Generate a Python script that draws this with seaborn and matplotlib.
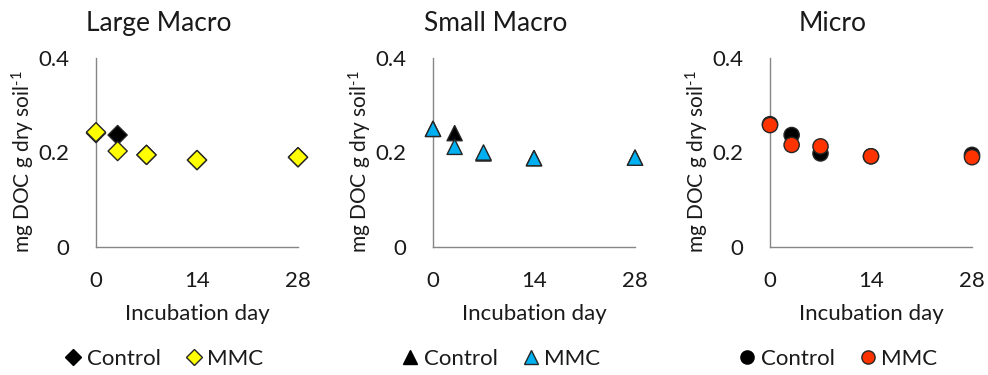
import matplotlib
matplotlib.use("Agg")
import matplotlib.pyplot as plt
from matplotlib.lines import Line2D
import seaborn as sns
import pandas as pd

# Dissolved organic carbon over the incubation, per aggregate size class
days = [0, 3, 7, 14, 28]
panel_titles = ["Large Macro", "Small Macro", "Micro"]
treatments = ["Control", "MMC"]

large_control = [0.241, 0.237, 0.195, 0.184, 0.190]
large_mmc = [0.243, 0.203, 0.195, 0.184, 0.190]
small_control = [0.250, 0.241, 0.198, 0.188, 0.189]
small_mmc = [0.250, 0.212, 0.200, 0.188, 0.189]
micro_control = [0.260, 0.237, 0.198, 0.192, 0.195]
micro_mmc = [0.258, 0.216, 0.213, 0.192, 0.190]

y_ticks = [0, 0.2, 0.4]
y_tick_labels = ["0", "0.2", "0.4"]
x_ticks = [0, 14, 28]

sns.set_theme(style="white")
plt.rcParams["font.family"] = ["Lato", "DejaVu Sans"]
plt.rcParams["mathtext.fontset"] = "custom"
plt.rcParams["mathtext.rm"] = "Lato"
plt.rcParams["mathtext.it"] = "Lato:italic"

fig = plt.figure(figsize=(9.88, 3.75), dpi=100)

panel_specs = [
    (large_control, large_mmc, "D", "#FFFF00", 95, 96),
    (small_control, small_mmc, "^", "#00B0F0", 120, 433),
    (micro_control, micro_mmc, "o", "#FF3300", 120, 770),
]

axis_grey = "#868686"
text_color = "#1a1a1a"
bottom_px, top_px = 247, 58
W, H = 988, 375

for title, (ctrl, mmc, marker, color, size, left_px) in zip(panel_titles, panel_specs):
    ax = fig.add_axes([left_px / W, 1 - bottom_px / H, 202 / W, (bottom_px - top_px) / H])
    df = pd.DataFrame({
        "day": days + days,
        "doc": ctrl + mmc,
        "treatment": ["Control"] * len(days) + ["MMC"] * len(days),
    })
    sns.scatterplot(
        data=df, x="day", y="doc", hue="treatment", hue_order=treatments,
        palette={"Control": "black", "MMC": color}, marker=marker, s=size,
        edgecolor="#262626", linewidth=1.0, ax=ax, legend=False, clip_on=False,
        zorder=3,
    )
    ax.set_xlim(0, 28)
    ax.set_ylim(0, 0.4)
    ax.set_xticks(x_ticks)
    ax.set_yticks(y_ticks)
    ax.set_yticklabels(y_tick_labels)
    for side in ["top", "right"]:
        ax.spines[side].set_visible(False)
    for side in ["left", "bottom"]:
        ax.spines[side].set_color(axis_grey)
        ax.spines[side].set_linewidth(1.0)
    ax.tick_params(axis="y", direction="in", length=4, width=1, color=axis_grey,
                   pad=19, labelsize=16, labelcolor=text_color)
    ax.tick_params(axis="x", length=0, pad=17, labelsize=16, labelcolor=text_color)

    ax.set_xlabel("Incubation day", fontsize=16, color=text_color)
    ax.xaxis.set_label_coords(0.5, -0.30)
    ax.set_ylabel(r"mg DOC g dry soil$^{\text{-1}}$", fontsize=15, color=text_color)
    ax.yaxis.set_label_coords(-0.29, 0.45)

    ax.text(0.31, 1.185, title, transform=ax.transAxes, ha="center", va="center",
            fontsize=19, color=text_color)

    ms = 8 if marker == "D" else 9.5
    handles = [
        Line2D([], [], linestyle="none", marker=marker, markersize=ms,
               markerfacecolor="black", markeredgecolor="black", label="Control"),
        Line2D([], [], linestyle="none", marker=marker, markersize=ms,
               markerfacecolor=color, markeredgecolor="#262626", label="MMC"),
    ]
    ax.legend(handles=handles, loc="center", bbox_to_anchor=(0.33, -0.59), ncol=2,
              frameon=False, fontsize=16, handletextpad=0.1, columnspacing=1.0,
              handlelength=1.0, labelcolor=text_color)

fig.savefig("out.png", dpi=100)
